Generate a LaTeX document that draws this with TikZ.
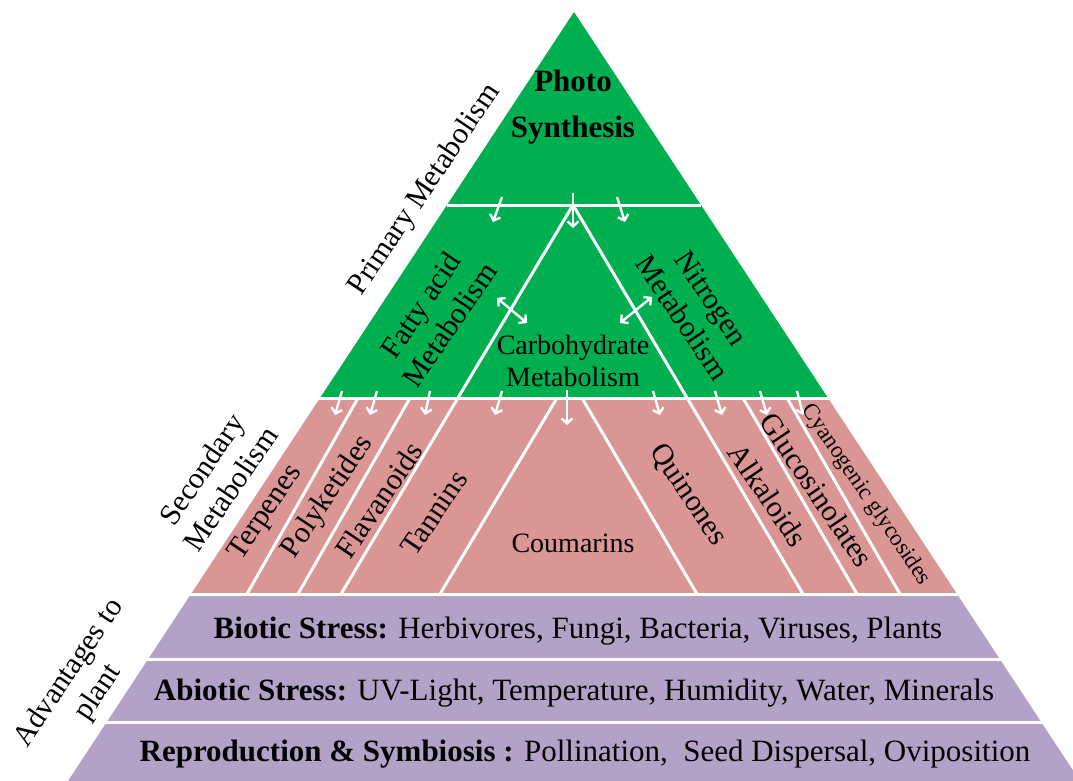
\documentclass[tikz,border=0pt]{standalone}
\usepackage{fontspec}
\setmainfont{Liberation Serif}
\definecolor{pgreen}{RGB}{0,176,80}
\definecolor{ppink}{RGB}{217,150,148}
\definecolor{ppurple}{RGB}{179,162,199}
\usetikzlibrary{arrows.meta}

\begin{document}
\begin{tikzpicture}[
  x=1pt,y=-1pt,
  lbl/.style={font=\fontsize{30}{35}\selectfont,align=center,inner sep=0pt},
  band/.style={font=\fontsize{31}{34}\selectfont,inner sep=0pt},
  sep/.style={white,line width=3pt},
  warr/.style={white,line width=2.4pt,-{Straight Barb[length=5pt,width=11pt]}},
  wdbl/.style={white,line width=2.4pt,{Straight Barb[length=5pt,width=11pt]}-{Straight Barb[length=5pt,width=11pt]}},
]
  \useasboundingbox (0,0) rectangle (1073,781);

  % Pyramid layers
  \fill[pgreen] (574,12) -- (828,398) -- (320,398) -- cycle;
  \fill[ppink] (320,398) -- (828,398) -- (957,594) -- (191,594) -- cycle;
  \fill[ppurple] (191,594) -- (957,594) -- (1080,781) -- (68,781) -- cycle;

  % Separating lines
  \draw[sep] (447,205) -- (701,205);
  \draw[sep] (318,398) -- (830,398);
  \draw[sep] (189,594) -- (959,594);
  \draw[sep] (146,659) -- (1002,659);
  \draw[sep] (105,722) -- (1043,722);

  % Inner triangle and Coumarins wedge
  \draw[sep] (341,594) -- (573,205) -- (803,594);
  \draw[sep] (440,594) -- (557,398);
  \draw[sep] (697,594) -- (582,398);

  % Secondary compound lanes
  \draw[sep] (358,398) -- (247,594);
  \draw[sep] (410,398) -- (298,594);
  \draw[sep] (743,398) -- (857,594);
  \draw[sep] (787,398) -- (900,594);

  % Arrows
  \draw[warr] (502,197) -- (493,222);
  \draw[warr] (573,193) -- (573,228);
  \draw[warr] (617,197) -- (625,222);
  \draw[wdbl] (497,298) -- (527,323);
  \draw[wdbl] (652,297) -- (620,323);
  \foreach \xa/\xb in {342/335,377/370,430/425,502/495,653/660,715/722,760/767,797/803}
    \draw[warr] (\xa,391) -- (\xb,415);
  \draw[warr] (567,390) -- (567,425);

  % Primary metabolism
  \node[lbl,font=\fontsize{31}{46}\selectfont\bfseries] (photo) at (573,107) {Photo\\Synthesis};
  \node[lbl,rotate=56] (primary) at (425,190) {Primary Metabolism};
  \node[lbl,rotate=56] (fatty) at (435,315) {Fatty acid\\Metabolism};
  \node[lbl,rotate=-56] (nitro) at (697,308) {Nitrogen\\Metabolism};
  \node[lbl,font=\fontsize{28}{32}\selectfont] (carbo) at (573,361) {Carbohydrate\\Metabolism};

  % Secondary metabolism
  \node[lbl,rotate=56] (second) at (216,479) {Secondary\\Metabolism};
  \node[lbl,rotate=56] (terp) at (266,513) {Terpenes};
  \node[lbl,rotate=56] (poly) at (328,497) {Polyketides};
  \node[lbl,rotate=56] (flav) at (379,500) {Flavanoids};
  \node[lbl,rotate=56] (tann) at (434,513) {Tannins};
  \node[lbl,font=\fontsize{28}{32}\selectfont] (couma) at (573,543) {Coumarins};
  \node[lbl,rotate=-56] (quin) at (688,495) {Quinones};
  \node[lbl,rotate=-56] (alka) at (768,495) {Alkaloids};
  \node[lbl,rotate=-56] (gluco) at (817,490) {Glucosinolates};
  \node[lbl,rotate=-56,font=\fontsize{23}{26}\selectfont] (cyano) at (866,495) {Cyanogenic glycosides};

  % Advantages to plant
  \node[lbl,rotate=56] (advan) at (84,683) {Advantages to\\plant};
  \node[band] (biotic) at (578,631)
    {\textbf{Biotic Stress:} Herbivores, Fungi, Bacteria, Viruses, Plants};
  \node[band] (abiotic) at (574,693)
    {\textbf{Abiotic Stress:} UV-Light, Temperature, Humidity, Water, Minerals};
  \node[band] (repro) at (585,754)
    {\textbf{Reproduction \& Symbiosis :} Pollination,\ \ Seed Dispersal, Oviposition};
\end{tikzpicture}
\end{document}
